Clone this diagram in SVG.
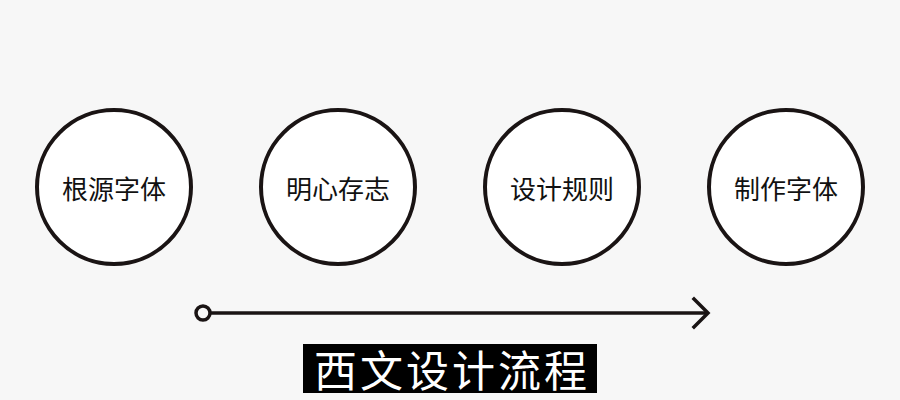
<svg xmlns="http://www.w3.org/2000/svg" width="900" height="400" viewBox="0 0 900 400">
<style>
.node circle{fill:#ffffff;stroke:#1a1414;stroke-width:4}
.node text{font-family:"Noto Sans CJK SC","Noto Sans",sans-serif;font-size:26px;fill:#111;text-anchor:middle;dominant-baseline:central}
.title{font-family:"Noto Sans CJK SC","Noto Sans",sans-serif;font-size:43px;letter-spacing:3px;fill:#ffffff;text-anchor:middle;dominant-baseline:central}
</style>
<rect width="900" height="400" fill="#f7f7f7"/>
<g id="node1" class="node"><circle cx="114" cy="187" r="77"/><text x="114" y="187">根源字体</text></g>
<g id="node2" class="node"><circle cx="338" cy="187" r="77"/><text x="338" y="187">明心存志</text></g>
<g id="node3" class="node"><circle cx="562" cy="187" r="77"/><text x="562" y="187">设计规则</text></g>
<g id="node4" class="node"><circle cx="786" cy="187" r="77"/><text x="786" y="187">制作字体</text></g>
<g id="connectors" fill="none" stroke="#1a1414" stroke-width="3.5">
<circle cx="203" cy="313" r="7"/>
<line x1="210" y1="313" x2="707" y2="313"/>
<polyline points="694,299 708,313 694,327" stroke-linecap="square"/>
</g>
<g id="label">
<rect x="303" y="344" width="294" height="49" fill="#000"/>
<text class="title" x="452" y="368">西文设计流程</text>
</g>
</svg>
